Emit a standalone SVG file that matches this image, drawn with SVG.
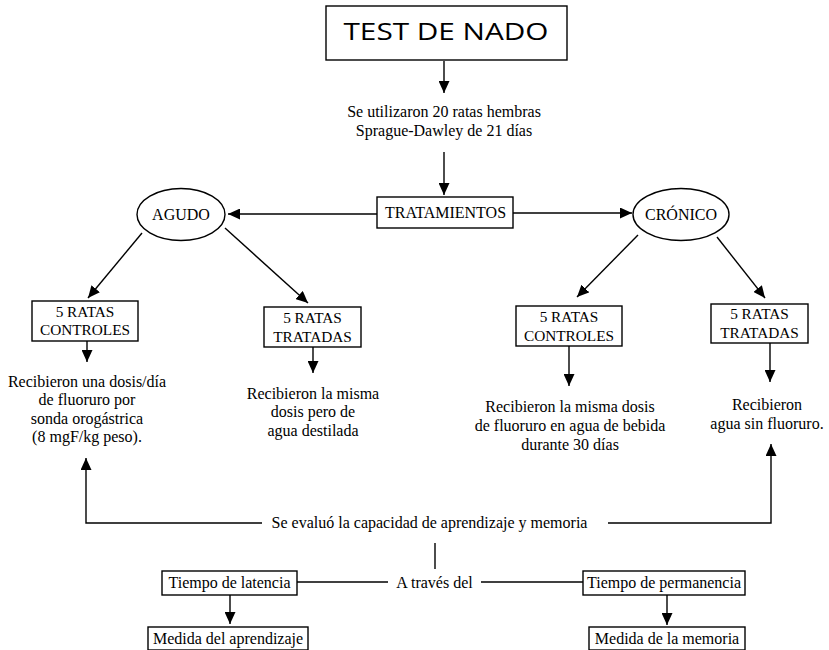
<svg xmlns="http://www.w3.org/2000/svg" width="829" height="650" viewBox="0 0 829 650">
<defs>
<marker id="ah" viewBox="0 0 12 11" refX="12" refY="5.5" markerWidth="12" markerHeight="11" markerUnits="userSpaceOnUse" orient="auto">
<path d="M0,0 L12,5.5 L0,11 z" fill="#000"/>
</marker>
</defs>
<style>
text{font-family:"Liberation Serif","Times New Roman",serif;font-size:16px;fill:#000;text-anchor:middle}
.sm{font-size:15.3px}
.box{fill:#fff;stroke:#000;stroke-width:1.4}
.ln{fill:none;stroke:#000;stroke-width:1.4}
.ar{fill:none;stroke:#000;stroke-width:1.4;marker-end:url(#ah)}
.title{font-family:"Open Sans","DejaVu Sans",sans-serif;font-size:23px}
</style>
<rect width="829" height="650" fill="#fff"/>
<g id="connectors">
<line class="ar" x1="444" y1="61" x2="444" y2="93"/>
<line class="ar" x1="444" y1="152" x2="444" y2="195"/>
<line class="ar" x1="377" y1="214" x2="228" y2="214"/>
<line class="ar" x1="513" y1="213" x2="632" y2="213"/>
<line class="ar" x1="142" y1="233" x2="88" y2="298"/>
<line class="ar" x1="225" y1="228" x2="308" y2="303"/>
<line class="ar" x1="638" y1="235" x2="577" y2="297"/>
<line class="ar" x1="717" y1="237" x2="765" y2="298"/>
<line class="ar" x1="87" y1="341" x2="87" y2="362"/>
<line class="ar" x1="313" y1="347" x2="313" y2="373"/>
<line class="ar" x1="569" y1="346" x2="569" y2="386"/>
<line class="ar" x1="770" y1="343" x2="770" y2="382"/>
<polyline class="ar" points="262,523 86,523 86,458"/>
<polyline class="ar" points="608,523 771,523 771,444"/>
<line class="ln" x1="435" y1="543" x2="435" y2="569"/>
<line class="ln" x1="297" y1="582" x2="388" y2="582"/>
<line class="ln" x1="481" y1="582" x2="583" y2="582"/>
<line class="ar" x1="230" y1="595" x2="230" y2="624"/>
<line class="ar" x1="667" y1="595" x2="667" y2="625"/>
</g>
<g id="title">
<rect class="box" x="326" y="6" width="241" height="54"/>
<text class="title" x="446" y="40" textLength="205" lengthAdjust="spacingAndGlyphs">TEST DE NADO</text>
</g>
<g id="ratas">
<text x="444" y="117">Se utilizaron 20 ratas hembras</text>
<text x="444" y="136">Sprague-Dawley de 21 días</text>
</g>
<g id="tratamientos">
<rect class="box" x="377" y="197" width="136" height="31"/>
<text x="445.5" y="218" font-size="16.5">TRATAMIENTOS</text>
</g>
<g id="agudo">
<ellipse class="box" cx="181" cy="214.5" rx="44" ry="26"/>
<text x="181" y="220">AGUDO</text>
</g>
<g id="cronico">
<ellipse class="box" cx="681" cy="214.5" rx="48" ry="26"/>
<text x="681" y="220">CRÓNICO</text>
</g>
<g id="agudo-controles">
<rect class="box" x="32" y="301" width="106" height="40"/>
<text class="sm" x="85" y="317">5 RATAS</text>
<text class="sm" x="85" y="335">CONTROLES</text>
</g>
<g id="agudo-tratadas">
<rect class="box" x="264" y="307" width="97" height="40"/>
<text class="sm" x="312.5" y="323">5 RATAS</text>
<text class="sm" x="312.5" y="342">TRATADAS</text>
</g>
<g id="cronico-controles">
<rect class="box" x="516" y="306" width="106" height="40"/>
<text class="sm" x="569" y="322">5 RATAS</text>
<text class="sm" x="569" y="341">CONTROLES</text>
</g>
<g id="cronico-tratadas">
<rect class="box" x="711" y="304" width="97" height="39"/>
<text class="sm" x="759.5" y="319">5 RATAS</text>
<text class="sm" x="759.5" y="338">TRATADAS</text>
</g>
<g id="texto-agudo-controles">
<text x="87" y="387">Recibieron una dosis/día</text>
<text x="87" y="405">de fluoruro por</text>
<text x="87" y="424">sonda orogástrica</text>
<text x="87" y="442">(8 mgF/kg peso).</text>
</g>
<g id="texto-agudo-tratadas">
<text x="313" y="399">Recibieron la misma</text>
<text x="313" y="417">dosis pero de</text>
<text x="313" y="436">agua destilada</text>
</g>
<g id="texto-cronico-controles">
<text x="570" y="412">Recibieron la misma dosis</text>
<text x="570" y="431">de fluoruro en agua de bebida</text>
<text x="570" y="450">durante 30 días</text>
</g>
<g id="texto-cronico-tratadas">
<text x="767" y="410">Recibieron</text>
<text x="767" y="429">agua sin fluoruro.</text>
</g>
<g id="evaluacion">
<text x="429.5" y="528" font-size="16.6">Se evaluó la capacidad de aprendizaje y memoria</text>
</g>
<g id="a-traves">
<text x="434.5" y="588">A través del</text>
</g>
<g id="latencia">
<rect class="box" x="162" y="571" width="135" height="24"/>
<text x="229.5" y="588">Tiempo de latencia</text>
</g>
<g id="permanencia">
<rect class="box" x="583" y="571" width="162" height="24"/>
<text x="664" y="588">Tiempo de permanencia</text>
</g>
<g id="aprendizaje">
<rect class="box" x="148" y="627" width="160" height="23"/>
<text x="228" y="644">Medida del aprendizaje</text>
</g>
<g id="memoria">
<rect class="box" x="589" y="627" width="156" height="23"/>
<text x="667" y="644">Medida de la memoria</text>
</g>
</svg>
